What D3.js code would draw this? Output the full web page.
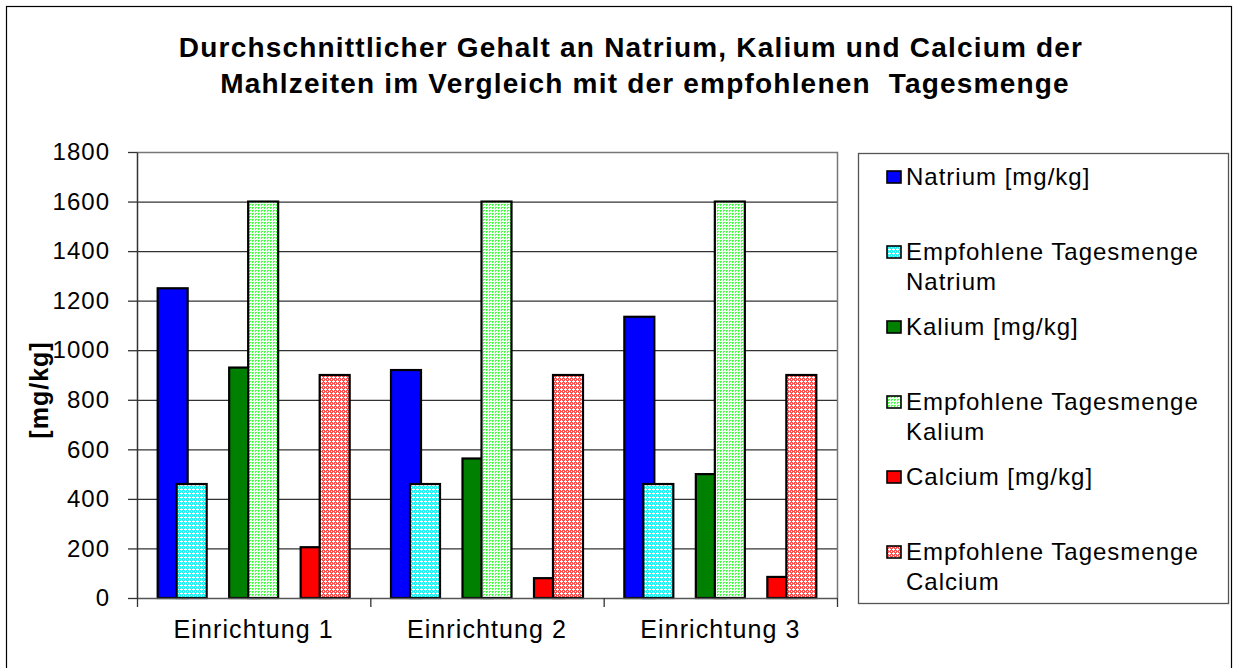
<!DOCTYPE html>
<html>
<head>
<meta charset="utf-8">
<script src="https://cdnjs.cloudflare.com/ajax/libs/d3/7.8.5/d3.min.js"></script>
<style>
  body { margin: 0; background: #fff; }
  text { font-family: Arial, "Liberation Sans", sans-serif; fill: #000; }
</style>
</head>
<body>
<svg width="1236" height="668"></svg>
<script>
// data
var categories = ["Einrichtung 1", "Einrichtung 2", "Einrichtung 3"];
var natrium = [1250, 920, 1135];
var empfNatrium = [460, 460, 460];
var kalium = [930, 563, 500];
var empfKalium = [1600, 1600, 1600];
var calcium = [205, 80, 85];
var empfCalcium = [900, 900, 900];
var yTicks = [0, 200, 400, 600, 800, 1000, 1200, 1400, 1600, 1800];
var titleLines = ["Durchschnittlicher Gehalt an Natrium, Kalium und Calcium der",
                  "Mahlzeiten im Vergleich mit der empfohlenen  Tagesmenge"];

var series = [
  { name: ["Natrium [mg/kg]"], values: natrium, pair: 0, second: false, fill: "#0000ff" },
  { name: ["Empfohlene Tagesmenge", "Natrium"], values: empfNatrium, pair: 0, second: true, fill: "url(#patCyan)" },
  { name: ["Kalium [mg/kg]"], values: kalium, pair: 1, second: false, fill: "#008000" },
  { name: ["Empfohlene Tagesmenge", "Kalium"], values: empfKalium, pair: 1, second: true, fill: "url(#patGreen)" },
  { name: ["Calcium [mg/kg]"], values: calcium, pair: 2, second: false, fill: "#ff0000" },
  { name: ["Empfohlene Tagesmenge", "Calcium"], values: empfCalcium, pair: 2, second: true, fill: "url(#patRed)" }
];

var svg = d3.select("svg");

// patterns
var defs = svg.append("defs");
function plusPattern(id, base) {
  var p = defs.append("pattern").attr("id", id)
    .attr("patternUnits", "userSpaceOnUse").attr("width", 4).attr("height", 4);
  p.append("rect").attr("width", 4).attr("height", 4).attr("fill", base);
  p.append("rect").attr("x", 1).attr("y", 0).attr("width", 1).attr("height", 3).attr("fill", "#fff");
  p.append("rect").attr("x", 0).attr("y", 1).attr("width", 3).attr("height", 1).attr("fill", "#fff");
  p.append("rect").attr("x", 3).attr("y", 3).attr("width", 1).attr("height", 1).attr("fill", "#fff");
}
plusPattern("patCyan", "#20f4f4");
plusPattern("patRed", "#ff5050");
var pg = defs.append("pattern").attr("id", "patGreen")
  .attr("patternUnits", "userSpaceOnUse").attr("width", 3).attr("height", 3);
pg.append("rect").attr("width", 3).attr("height", 3).attr("fill", "#f0fff0");
pg.append("rect").attr("width", 2).attr("height", 1).attr("fill", "#44ff44");
pg.append("rect").attr("width", 1).attr("height", 2).attr("fill", "#44ff44");

// outer frame
svg.append("rect").attr("x", 6.5).attr("y", 6.5).attr("width", 1225).attr("height", 680)
  .attr("fill", "none").attr("stroke", "#000").attr("stroke-width", 1.2);

// title
svg.selectAll(".title").data(titleLines).enter().append("text")
  .attr("x", function (d, i) { return i ? 645 : 631; })
  .attr("y", function (d, i) { return 57 + i * 36; })
  .attr("text-anchor", "middle")
  .style("white-space", "pre")
  .style("font-size", "28px").style("font-weight", "bold").style("letter-spacing", "1.2px")
  .text(function (d) { return d; });

var margin = { left: 137, top: 152, right: 837, bottom: 598 };

var x = d3.scaleBand().domain(categories).range([margin.left, margin.right]);
var y = d3.scaleLinear().domain([0, 1800]).range([margin.bottom, margin.top]);

// within a category: 3 pairs, each pair two overlapping bars
var barW = 30, innerStep = 19, pairStep = 71.5;
var groupW = 2 * pairStep + innerStep + barW;
function barX(cat, s) {
  var start = x(cat) + (x.bandwidth() - groupW) / 2;
  return start + s.pair * pairStep + (s.second ? innerStep : 0);
}

// grid
svg.selectAll(".grid").data(yTicks.slice(1, -1)).enter().append("line")
  .attr("x1", margin.left).attr("x2", margin.right)
  .attr("y1", function (d) { return y(d) + 0.5; }).attr("y2", function (d) { return y(d) + 0.5; })
  .attr("stroke", "#333").attr("stroke-width", 1.3);
// plot border top/right
svg.append("path")
  .attr("d", "M" + margin.left + "," + (margin.top + 0.5) + "H" + (margin.right + 0.5) + "V" + margin.bottom)
  .attr("fill", "none").attr("stroke", "#777").attr("stroke-width", 1.5);

// bars
series.forEach(function (s) {
  svg.append("g").selectAll("rect").data(s.values).enter().append("rect")
    .attr("x", function (d, i) { return barX(categories[i], s); })
    .attr("y", function (d) { return y(d); })
    .attr("width", barW)
    .attr("height", function (d) { return y(0) - y(d); })
    .attr("fill", s.fill)
    .attr("stroke", "#000").attr("stroke-width", 2.2);
});

// y axis
var yAxis = svg.append("g").attr("transform", "translate(" + margin.left + ",0)")
  .call(d3.axisLeft(y).tickValues(yTicks).tickFormat(d3.format("d"))
    .tickSize(9).tickPadding(18).tickSizeOuter(0));
yAxis.select(".domain").attr("stroke", "#333").attr("stroke-width", 1.5);
yAxis.selectAll(".tick line").attr("stroke", "#333").attr("stroke-width", 1.3);
yAxis.selectAll(".tick text")
  .style("font-size", "24px").style("letter-spacing", "1px")
  .style("font-family", "Arial, 'Liberation Sans', sans-serif");

// x axis
var xAxis = svg.append("g").attr("transform", "translate(0," + margin.bottom + ")")
  .call(d3.axisBottom(x).tickSize(0).tickPadding(22));
xAxis.select(".domain").attr("stroke", "#555").attr("stroke-width", 1.3);
xAxis.selectAll(".tick text")
  .style("font-size", "25px").style("letter-spacing", "1.1px")
  .style("font-family", "Arial, 'Liberation Sans', sans-serif");
var sep = [margin.left].concat(categories.map(function (c) { return x(c) + x.bandwidth(); }));
svg.selectAll(".xsep").data(sep).enter().append("line")
  .attr("x1", function (d) { return d + 0.5; }).attr("x2", function (d) { return d + 0.5; })
  .attr("y1", margin.bottom).attr("y2", margin.bottom + 9)
  .attr("stroke", "#333").attr("stroke-width", 1.3);

// y title
svg.append("text")
  .attr("transform", "translate(48,390) rotate(-90)")
  .attr("text-anchor", "middle")
  .style("font-size", "25px").style("font-weight", "bold").style("letter-spacing", "1px")
  .text("[mg/kg]");

// legend
svg.append("rect").attr("x", 858.5).attr("y", 153.5).attr("width", 370).attr("height", 450)
  .attr("fill", "#fff").attr("stroke", "#555").attr("stroke-width", 1.3);
series.forEach(function (s, i) {
  var base = 185 + 75 * i;
  svg.append("rect").attr("x", 887).attr("y", base - 14).attr("width", 14).attr("height", 12)
    .attr("fill", s.fill).attr("stroke", "#000").attr("stroke-width", 1.6);
  s.name.forEach(function (line, j) {
    svg.append("text").attr("x", 906).attr("y", base + j * 30)
      .style("font-size", "24px").style("letter-spacing", "1px").text(line);
  });
});
</script>
</body>
</html>
